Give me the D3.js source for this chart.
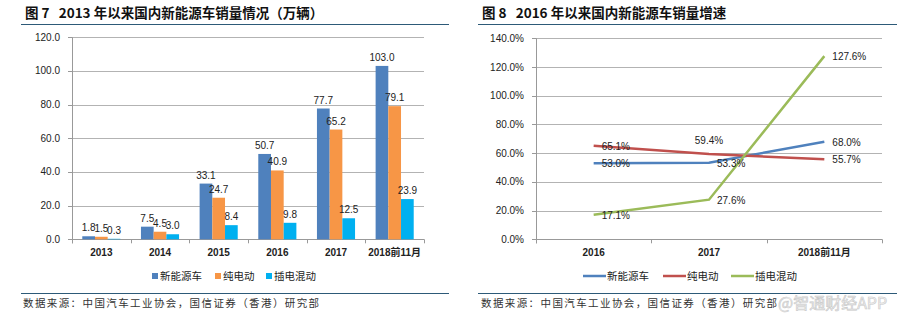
<!DOCTYPE html>
<html>
<head>
<meta charset="utf-8">
<script src="https://cdn.jsdelivr.net/npm/d3@7"></script>
<style>
  body { margin: 0; background: #fff; }
  svg { display: block; }
  text { font-family: "Liberation Sans", Arial, "Noto Sans CJK SC", sans-serif; }
  .cjk { font-family: "Noto Sans CJK SC", sans-serif; }
  .pre { white-space: pre; }
</style>
</head>
<body>
<div id="chart"></div>
<script>
// 图7 数据
var years = ["2013", "2014", "2015", "2016", "2017", "2018前11月"];
var seriesNames = ["新能源车", "纯电动", "插电混动"];
var nevSales = [1.8, 7.5, 33.1, 50.7, 77.7, 103.0];
var bevSales = [1.5, 4.5, 24.7, 40.9, 65.2, 79.1];
var phevSales = [0.3, 3.0, 8.4, 9.8, 12.5, 23.9];
var salesTicks = [0, 20, 40, 60, 80, 100, 120];

// 图8 数据
var growthYears = ["2016", "2017", "2018前11月"];
var nevGrowth = [53.0, 53.3, 68.0];
var bevGrowth = [65.1, 59.4, 55.7];
var phevGrowth = [17.1, 27.6, 127.6];
var growthTicks = [0, 20, 40, 60, 80, 100, 120, 140];

var barColors = ["#4f81bd", "#f79646", "#00b0f0"];
var lineColors = ["#4f81bd", "#c0504d", "#9bbb59"];
var ruleColor = "#2d5a78";
var gridColor = "#b3b3b3";
var sourceText = "数据来源：中国汽车工业协会，国信证券（香港）研究部";

var W = 897, H = 323;
var svg = d3.select("#chart").append("svg").attr("width", W).attr("height", H);

function drawTitle(x, text, ruleX0, ruleX1) {
    svg.append("text").attr("class", "cjk pre")
        .attr("x", x).attr("y", 18)
        .attr("font-size", 13.5).attr("font-weight", "bold").attr("fill", "#111")
        .text(text);
    svg.append("line").attr("x1", ruleX0).attr("x2", ruleX1)
        .attr("y1", 24.5).attr("y2", 24.5)
        .attr("stroke", ruleColor).attr("stroke-width", 1);
}

function drawSource(x, ruleX0, ruleX1) {
    svg.append("line").attr("x1", ruleX0).attr("x2", ruleX1)
        .attr("y1", 293.5).attr("y2", 293.5)
        .attr("stroke", ruleColor).attr("stroke-width", 1);
    svg.append("text").attr("class", "cjk")
        .attr("x", x).attr("y", 307)
        .attr("font-size", 10.5).attr("letter-spacing", 1.4).attr("fill", "#333")
        .text(sourceText);
}

function drawYAxis(g, yScale, ticks, x0, x1, fmt) {
    ticks.forEach(function (t) {
        var y = Math.round(yScale(t)) + 0.5;
        g.append("line").attr("x1", x0).attr("x2", x1)
            .attr("y1", y).attr("y2", y)
            .attr("stroke", t == 0 ? "#999" : gridColor).attr("stroke-width", 1);
        g.append("line").attr("x1", x0 - 4).attr("x2", x0)
            .attr("y1", y).attr("y2", y)
            .attr("stroke", "#999");
        g.append("text").attr("x", x0 - 12).attr("y", yScale(t) + 3.5)
            .attr("text-anchor", "end").attr("font-size", 10).attr("fill", "#222")
            .text(fmt(t));
    });
    g.append("line").attr("x1", x0 + 0.5).attr("x2", x0 + 0.5)
        .attr("y1", yScale(ticks[ticks.length - 1])).attr("y2", yScale(0) + 4)
        .attr("stroke", "#999");
}

function drawXAxis(g, xScale, y0) {
    var edges = xScale.domain().map(function (d) { return xScale(d); });
    edges.push(xScale.range()[1]);
    edges.forEach(function (e) {
        g.append("line").attr("x1", Math.round(e) + 0.5).attr("x2", Math.round(e) + 0.5)
            .attr("y1", y0).attr("y2", y0 + 4).attr("stroke", "#999");
    });
    xScale.domain().forEach(function (d) {
        g.append("text").attr("x", xScale(d) + xScale.bandwidth() / 2).attr("y", y0 + 17)
            .attr("text-anchor", "middle").attr("font-size", 10).attr("font-weight", "bold")
            .attr("fill", "#222").text(d);
    });
}

//---------- 左图：柱状图 ----------
drawTitle(25, "图 7   2013 年以来国内新能源车销量情况（万辆）", 21, 449);

var gL = svg.append("g");
var xL = d3.scaleBand().domain(years).range([72, 424]).paddingInner(0).paddingOuter(0);
var xSub = d3.scaleBand().domain([0, 1, 2]).range([0, xL.bandwidth()]).paddingInner(0).paddingOuter(0.81);
var yL = d3.scaleLinear().domain([0, 120]).range([239.3, 37.3]);

drawYAxis(gL, yL, salesTicks, 72, 424, d3.format(".1f"));

var barData = [nevSales, bevSales, phevSales];
barData.forEach(function (vals, si) {
    gL.selectAll(null).data(vals).enter().append("rect")
        .attr("x", function (d, i) { return xL(years[i]) + xSub(si); })
        .attr("y", function (d) { return yL(d); })
        .attr("width", xSub.bandwidth())
        .attr("height", function (d) { return yL(0) - yL(d); })
        .attr("fill", barColors[si]);
});
barData.forEach(function (vals, si) {
    gL.selectAll(null).data(vals).enter().append("text")
        .attr("x", function (d, i) { return xL(years[i]) + xSub(si) + xSub.bandwidth() / 2; })
        .attr("y", function (d) { return yL(d) - 5; })
        .attr("text-anchor", "middle").attr("font-size", 10).attr("fill", "#222")
        .text(function (d) { return d3.format(".1f")(d); });
});

drawXAxis(gL, xL, yL(0));

// 图例
var legL = svg.append("g");
var legLX = [152, 215, 266];
seriesNames.forEach(function (n, i) {
    legL.append("rect").attr("x", legLX[i]).attr("y", 273).attr("width", 6).attr("height", 6)
        .attr("fill", barColors[i]);
    legL.append("text").attr("class", "cjk").attr("x", legLX[i] + 8).attr("y", 280)
        .attr("font-size", 10.5).attr("fill", "#222").text(n);
});

drawSource(23, 21, 449);

//---------- 右图：折线图 ----------
drawTitle(482, "图 8   2016 年以来国内新能源车销量增速", 478, 897);

var gR = svg.append("g");
var xR = d3.scaleBand().domain(growthYears).range([536, 882]).paddingInner(0).paddingOuter(0);
var yR = d3.scaleLinear().domain([0, 140]).range([239.3, 38.3]);

drawYAxis(gR, yR, growthTicks, 536, 882, function (t) { return d3.format(".1f")(t) + "%"; });

var lineData = [nevGrowth, bevGrowth, phevGrowth];
var line = d3.line()
    .x(function (d, i) { return xR(growthYears[i]) + xR.bandwidth() / 2; })
    .y(function (d) { return yR(d); });

lineData.forEach(function (vals, si) {
    gR.append("path").datum(vals).attr("d", line)
        .attr("fill", "none").attr("stroke", lineColors[si]).attr("stroke-width", 2.5);
});

// 数据标签：59.4% 在点上方，其余在点右侧
lineData.forEach(function (vals, si) {
    vals.forEach(function (d, i) {
        var px = xR(growthYears[i]) + xR.bandwidth() / 2;
        var above = (si == 1 && i == 1);
        gR.append("text")
            .attr("x", above ? px : px + 8)
            .attr("y", above ? yR(d) - 10 : yR(d) + 4)
            .attr("text-anchor", above ? "middle" : "start")
            .attr("font-size", 10).attr("fill", "#222")
            .text(d3.format(".1f")(d) + "%");
    });
});

drawXAxis(gR, xR, yR(0));

var legR = svg.append("g");
var legRX = [583, 663, 731];
seriesNames.forEach(function (n, i) {
    legR.append("line").attr("x1", legRX[i]).attr("x2", legRX[i] + 23)
        .attr("y1", 276).attr("y2", 276)
        .attr("stroke", lineColors[i]).attr("stroke-width", 2.5);
    legR.append("text").attr("class", "cjk").attr("x", legRX[i] + 24).attr("y", 280)
        .attr("font-size", 10.5).attr("fill", "#222").text(n);
});

drawSource(481, 478, 897);

// 水印
svg.append("text").attr("class", "cjk")
    .attr("x", 778).attr("y", 309)
    .attr("font-size", 16).attr("fill", "#f2f2f2").attr("stroke", "#c8c8c8").attr("stroke-width", 0.6)
    .text("@智通财经APP");
</script>
</body>
</html>
